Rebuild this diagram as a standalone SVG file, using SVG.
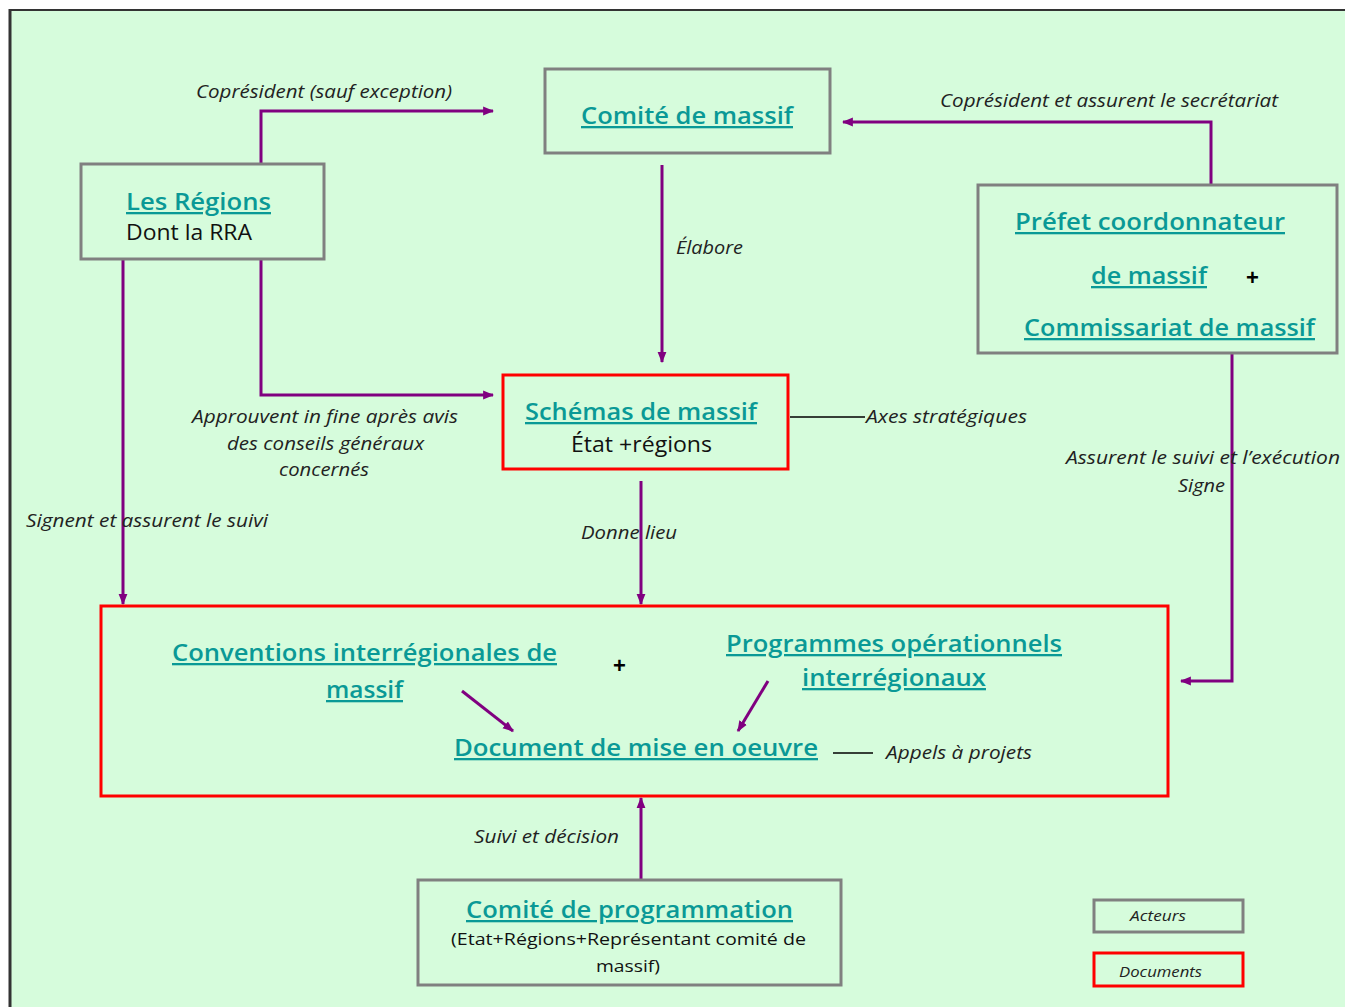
<svg xmlns="http://www.w3.org/2000/svg" width="1345" height="1007" viewBox="0 0 1345 1007">
<defs>
<style>
.bg{fill:#d6fcdc}
.actor{fill:none;stroke:#808080;stroke-width:3}
.doc{fill:none;stroke:#ff0000;stroke-width:3}
.conn{fill:none;stroke:#800080;stroke-width:3}
.thin{fill:none;stroke:#000;stroke-width:1.5}
text{font-family:"Open Sans","Liberation Sans",sans-serif}
.t{font-weight:600;fill:#0a9996;font-size:23px;text-decoration:underline}
.b{fill:#111;font-size:21px}
.s{fill:#111;font-size:17px}
.i{font-style:italic;fill:#222;font-size:17.5px}
.li{font-style:italic;fill:#222;font-size:14px}
.plus{font-family:"Liberation Sans",sans-serif;font-weight:bold;fill:#000;font-size:22px}
</style>
<marker id="ah" viewBox="0 0 10 10" refX="9" refY="5" markerWidth="11" markerHeight="11" markerUnits="userSpaceOnUse" orient="auto">
<path d="M0,1 L10,5 L0,9 z" fill="#800080"/>
</marker>
</defs>
<rect x="0" y="0" width="1345" height="1007" fill="#ffffff"/>
<rect class="bg" x="11" y="11" width="1334" height="996"/>
<line x1="9" y1="10" x2="1345" y2="10" stroke="#333" stroke-width="2"/>
<line x1="10" y1="9" x2="10" y2="1007" stroke="#333" stroke-width="3"/>

<g id="connectors">
<polyline class="conn" points="261,164 261,111 493,111" marker-end="url(#ah)"/>
<polyline class="conn" points="1211,185 1211,122 843,122" marker-end="url(#ah)"/>
<line class="conn" x1="662" y1="165" x2="662" y2="362" marker-end="url(#ah)"/>
<polyline class="conn" points="261,259 261,395 493,395" marker-end="url(#ah)"/>
<line class="conn" x1="123" y1="259" x2="123" y2="604" marker-end="url(#ah)"/>
<line class="conn" x1="641" y1="481" x2="641" y2="604" marker-end="url(#ah)"/>
<polyline class="conn" points="1232,353 1232,681 1181,681" marker-end="url(#ah)"/>
<line class="conn" x1="641" y1="880" x2="641" y2="798" marker-end="url(#ah)"/>
<line class="conn" x1="462" y1="691" x2="513" y2="731" marker-end="url(#ah)"/>
<line class="conn" x1="768" y1="681" x2="738" y2="731" marker-end="url(#ah)"/>
<line class="thin" x1="790" y1="417" x2="865" y2="417"/>
<line class="thin" x1="833" y1="753" x2="873" y2="753"/>
<text class="i" x="196" y="98" textLength="256" lengthAdjust="spacingAndGlyphs">Coprésident (sauf exception)</text>
<text class="i" x="940" y="107" textLength="338" lengthAdjust="spacingAndGlyphs">Coprésident et assurent le secrétariat</text>
<text class="i" x="676" y="254" textLength="67" lengthAdjust="spacingAndGlyphs">Élabore</text>
<text class="i" x="192" y="423" textLength="266" lengthAdjust="spacingAndGlyphs">Approuvent in fine  après avis</text>
<text class="i" x="227" y="450" textLength="197" lengthAdjust="spacingAndGlyphs">des conseils généraux</text>
<text class="i" x="279" y="476" textLength="90" lengthAdjust="spacingAndGlyphs">concernés</text>
<text class="i" x="26" y="527" textLength="242" lengthAdjust="spacingAndGlyphs">Signent et assurent le suivi</text>
<text class="i" x="581" y="539" textLength="96" lengthAdjust="spacingAndGlyphs">Donne lieu</text>
<text class="i" x="866" y="423" textLength="161" lengthAdjust="spacingAndGlyphs">Axes stratégiques</text>
<text class="i" x="1066" y="464" textLength="274" lengthAdjust="spacingAndGlyphs">Assurent le suivi et l’exécution</text>
<text class="i" x="1178" y="492" textLength="47" lengthAdjust="spacingAndGlyphs">Signe</text>
<text class="i" x="474" y="843" textLength="145" lengthAdjust="spacingAndGlyphs">Suivi et décision</text>
<text class="i" x="886" y="759" textLength="146" lengthAdjust="spacingAndGlyphs">Appels à projets</text>
</g>

<g id="regions">
<rect class="actor" x="81" y="164" width="243" height="95"/>
<text class="t" x="126" y="210" textLength="145" lengthAdjust="spacingAndGlyphs">Les Régions</text>
<text class="b" x="126" y="240" textLength="126" lengthAdjust="spacingAndGlyphs">Dont la RRA</text>
</g>

<g id="comite-massif">
<rect class="actor" x="545" y="69" width="285" height="84"/>
<text class="t" x="581" y="124" textLength="212" lengthAdjust="spacingAndGlyphs">Comité de massif</text>
</g>

<g id="prefet">
<rect class="actor" x="978" y="185" width="359" height="168"/>
<text class="t" x="1015" y="230" textLength="270" lengthAdjust="spacingAndGlyphs">Préfet coordonnateur</text>
<text class="t" x="1091" y="284" textLength="116" lengthAdjust="spacingAndGlyphs">de massif</text>
<text class="plus" x="1246" y="285">+</text>
<text class="t" x="1024" y="336" textLength="291" lengthAdjust="spacingAndGlyphs">Commissariat de massif</text>
</g>

<g id="schemas">
<rect class="doc" x="503" y="375" width="285" height="94"/>
<text class="t" x="525" y="420" textLength="232" lengthAdjust="spacingAndGlyphs">Schémas de massif</text>
<text class="b" x="571" y="452" textLength="141" lengthAdjust="spacingAndGlyphs">État +régions</text>
</g>

<g id="documents">
<rect class="doc" x="101" y="606" width="1067" height="190"/>
<text class="t" x="172" y="661" textLength="385" lengthAdjust="spacingAndGlyphs">Conventions interrégionales de</text>
<text class="t" x="326" y="698" textLength="77" lengthAdjust="spacingAndGlyphs">massif</text>
<text class="plus" x="613" y="673">+</text>
<text class="t" x="726" y="652" textLength="336" lengthAdjust="spacingAndGlyphs">Programmes opérationnels</text>
<text class="t" x="802" y="686" textLength="184" lengthAdjust="spacingAndGlyphs">interrégionaux</text>
<text class="t" x="454" y="756" textLength="364" lengthAdjust="spacingAndGlyphs">Document de mise en oeuvre</text>
</g>

<g id="comite-programmation">
<rect class="actor" x="418" y="880" width="423" height="105"/>
<text class="t" x="466" y="918" textLength="327" lengthAdjust="spacingAndGlyphs">Comité de programmation</text>
<text class="s" x="451" y="945" textLength="355" lengthAdjust="spacingAndGlyphs">(Etat+Régions+Représentant comité de</text>
<text class="s" x="596" y="972" textLength="64" lengthAdjust="spacingAndGlyphs">massif)</text>
</g>

<g id="legend-acteurs">
<rect class="actor" x="1094" y="900" width="149" height="32"/>
<text class="li" x="1130" y="921" textLength="56" lengthAdjust="spacingAndGlyphs">Acteurs</text>
</g>
<g id="legend-documents">
<rect class="doc" x="1094" y="953" width="149" height="33"/>
<text class="li" x="1119" y="977" textLength="83" lengthAdjust="spacingAndGlyphs">Documents</text>
</g>
</svg>
